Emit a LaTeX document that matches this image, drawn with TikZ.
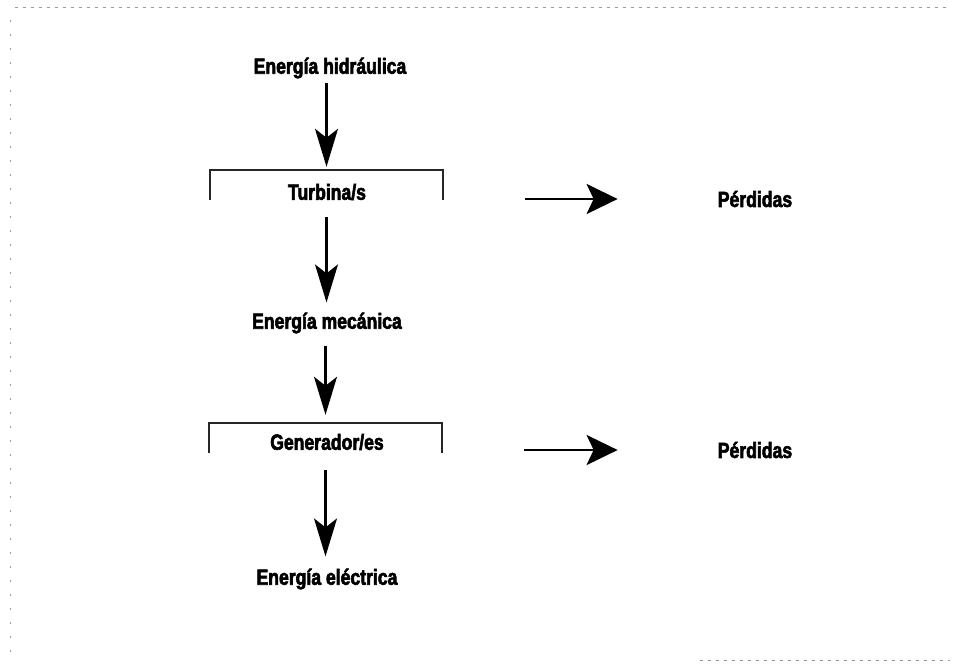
\documentclass[tikz,border=0pt]{standalone}
\usepackage{fontspec}
\setmainfont{Liberation Sans}[FakeStretch=0.8, BoldFeatures={FakeBold=2.6}]
\usetikzlibrary{arrows.meta}
\tikzset{
  lbl/.style={inner sep=0pt, font=\fontsize{22}{24}\selectfont\bfseries},
  bracketbox/.style={inner sep=0pt, minimum width=233pt, minimum height=30pt},
  bracketline/.style={line width=1.8pt, draw=black!85},
  varrow/.style={line width=2.2pt, -{Stealth[length=38pt, width=23pt, inset=9pt]}},
  harrow/.style={line width=2.8pt, -{Stealth[length=31pt, width=30pt, inset=7pt]}},
  frameline/.style={line width=0.8pt, draw=black!40, dash pattern=on 3pt off 5pt}
}
\begin{document}
\begin{tikzpicture}[x=1pt, y=-1pt]
\useasboundingbox (0,0) rectangle (956,667);
% faint scan frame
\draw[frameline] (15,7) -- (950,7);
\draw[frameline, dash pattern=on 2pt off 12pt] (10,20) -- (10,660);
\draw[frameline] (700,660) -- (950,660);

% nodes
\node[lbl] (hid) at (330,68) {Energía hidráulica};
\node[bracketbox] (tb) at (326.5,185) {};
\node[lbl] (tt) at (327,192) {Turbina/s};
\node[lbl] (mec) at (327,323) {Energía mecánica};
\node[bracketbox] (gb) at (325.5,438) {};
\node[lbl] (gt) at (327,442) {Generador/es};
\node[lbl] (ele) at (327,579) {Energía eléctrica};
\node[lbl] (p1) at (755,199) {Pérdidas};
\node[lbl] (p2) at (755,450) {Pérdidas};

% bracket boxes
\draw[bracketline] (tb.south west) -- (tb.north west) -- (tb.north east) -- (tb.south east);
\draw[bracketline] (gb.south west) -- (gb.north west) -- (gb.north east) -- (gb.south east);

% vertical arrows
\draw[varrow, shorten <=4pt, shorten >=3pt] (hid.south -| tb.north) -- (tb.north);
\draw[varrow, shorten <=17pt, shorten >=10pt] (tb.south) -- (tb.south |- mec.north);
\draw[varrow, shorten <=12pt, shorten >=8pt] (mec.south -| gb.north) -- (gb.north);
\draw[varrow, shorten <=17pt, shorten >=12pt] (gb.south) -- (gb.south |- ele.north);

% horizontal arrows
\draw[harrow, shorten <=82pt, shorten >=100pt] (tb.east |- p1.west) -- (p1.west);
\draw[harrow, shorten <=82pt, shorten >=100pt] (gb.east |- p2.west) -- (p2.west);
\end{tikzpicture}
\end{document}
